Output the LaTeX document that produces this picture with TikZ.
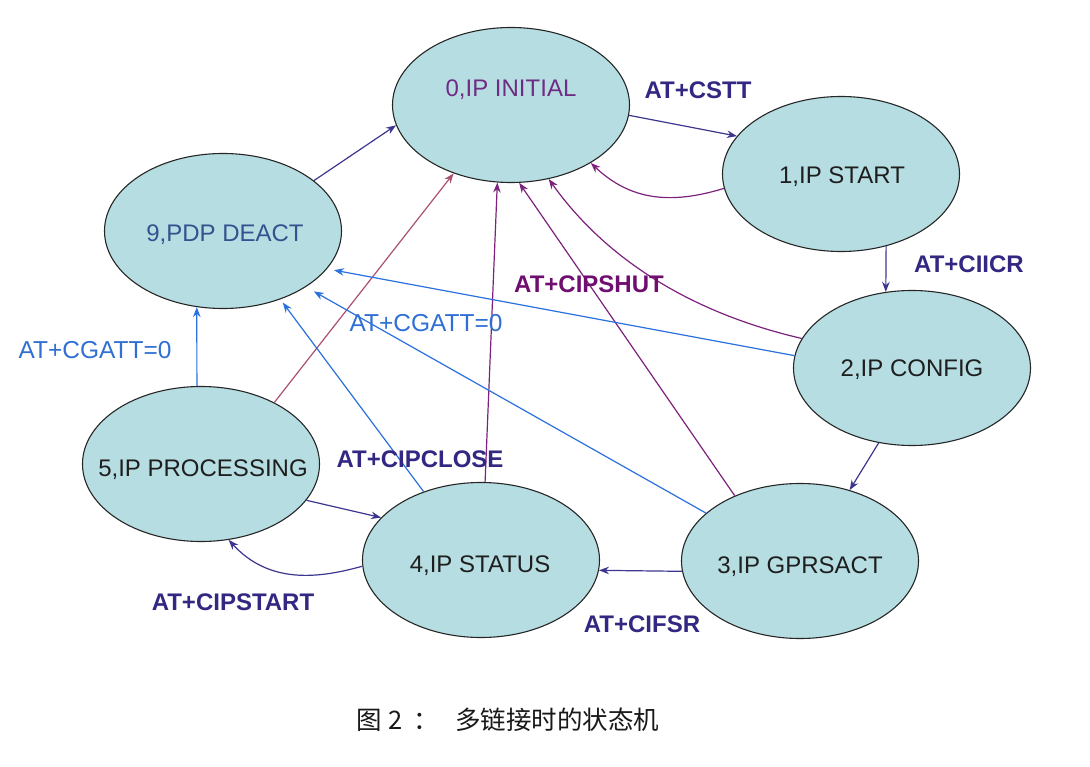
\documentclass[tikz,border=0pt]{standalone}
\usepackage{fontspec}
\setmainfont{Liberation Sans}
\newfontfamily\cjk{Noto Sans CJK SC}
\usetikzlibrary{shapes.geometric,arrows.meta}
\definecolor{fillc}{RGB}{182,222,226}
\definecolor{navy}{RGB}{60,54,142}
\definecolor{labnavy}{RGB}{50,40,130}
\definecolor{purp}{RGB}{124,34,124}
\definecolor{mauve}{RGB}{170,80,114}
\definecolor{bluel}{RGB}{42,112,222}
\definecolor{labblue}{RGB}{48,112,212}
\definecolor{labpurp}{RGB}{112,14,112}
\definecolor{tzero}{RGB}{112,44,132}
\definecolor{tnine}{RGB}{52,82,142}
\definecolor{tdark}{RGB}{30,30,30}
\begin{document}
\begin{tikzpicture}[x=1pt,y=-1pt,
  state/.style={ellipse,draw=black!85,line width=1.1pt,fill=fillc,minimum width=237pt,minimum height=155pt,inner sep=0pt},
  stxt/.style={font=\fontsize{24}{28}\selectfont,text=tdark,inner sep=0pt,anchor=base},
  lab/.style={font=\fontsize{24}{28}\selectfont\bfseries,text=labnavy,inner sep=0pt,anchor=base},
  glab/.style={font=\fontsize{24.5}{28}\selectfont,text=labblue,inner sep=0pt,anchor=base},
  tipped/.style={-{Stealth[length=10pt,width=7.5pt]}},
  nav/.style={tipped,draw=navy,line width=1.2pt},
  pur/.style={tipped,draw=purp,line width=1.2pt},
  mau/.style={tipped,draw=mauve,line width=1.2pt},
  blu/.style={tipped,draw=bluel,line width=1.2pt},
  captxt/.style={font=\cjk\fontsize{25.5}{30}\selectfont,text=black!90,inner sep=0pt,anchor=base}
]
\useasboundingbox[fill=white] (0,0) rectangle (1090,767);

% states
\node[state] (n0) at (511,105) {};
\node[state] (n1) at (841,174) {};
\node[state] (n2) at (912,368) {};
\node[state] (n9) at (223,231) {};
\node[state] (n5) at (201,464) {};
\node[state] (n4) at (481,560) {};
\node[state] (n3) at (800,561) {};

\node[stxt,text=tzero] (t0) at (511,97) {0,IP INITIAL};
\node[stxt] (t1) at (842,184) {1,IP START};
\node[stxt] (t2) at (912,377) {2,IP CONFIG};
\node[stxt,text=tnine] (t9) at (225,242) {9,PDP DEACT};
\node[stxt] (t5) at (203,476) {5,IP PROCESSING};
\node[stxt] (t4) at (480,572) {4,IP STATUS};
\node[stxt] (t3) at (800,573) {3,IP GPRSACT};

% connectors
\draw[nav] (n0.-5) -- (n1.160);
\draw[pur] (n1.187) .. controls (670,205) and (630,200) .. (n0.-36);
\draw[nav] (n1.-58) -- (n2.109);
\draw[nav] (n2.-114) -- (n3.55);
\draw[nav] (n3.185) -- (n4.-5);
\draw[nav] (n4.183) .. controls (320,578) and (270,585) .. (n5.-70);
\draw[nav] (n5.-19) -- (n4.157);
\draw[nav] (n9.29) -- (n0.190);
\draw[mau] (n5.40) -- (n0.-130);
\draw[pur] (n4.87) -- (n0.-100);
\draw[pur] (n3.135) -- (n0.-84);
\draw[pur] (n2.165) .. controls (700,315) and (610,265) .. (n0.-63);
\draw[blu] (n5.93) -- (n9.-109);
\draw[blu,shorten >=4pt] (n4.130) -- (n9.-50);
\draw[blu,shorten >=9pt] (n3.153) -- (n9.-34);
\draw[blu,shorten >=7pt] (n2.174) -- (n9.-20);

% labels
\node[lab] (l1) at (698,99) {AT+CSTT};
\node[lab] (l2) at (969,273) {AT+CIICR};
\node[lab,text=labpurp] (l3) at (589,293) {AT+CIPSHUT};
\node[glab] (l4) at (426,332) {AT+CGATT=0};
\node[glab] (l5) at (95,359) {AT+CGATT=0};
\node[lab] (l6) at (420,467) {AT+CIPCLOSE};
\node[lab] (l7) at (233,610) {AT+CIPSTART};
\node[lab] (l8) at (642,632) {AT+CIFSR};

% caption
\node[captxt] (c1) at (369.5,729) {图};
\node[captxt] (c2) at (396,729) {2};
\node[captxt] (c3) at (426,729) {：};
\node[captxt,anchor=base west] (c4) at (455,729) {多链接时的状态机};
\end{tikzpicture}
\end{document}
